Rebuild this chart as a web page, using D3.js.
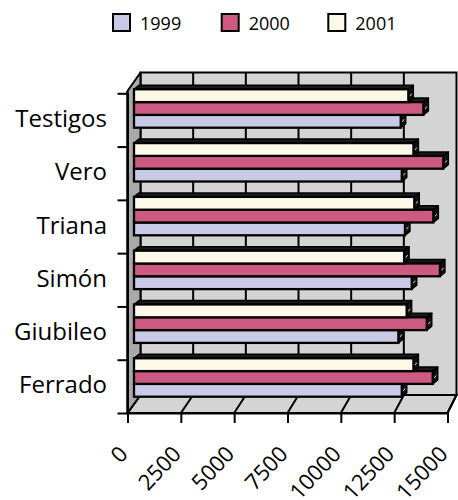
<!DOCTYPE html>
<html><head><meta charset="utf-8">
<script src="https://cdn.jsdelivr.net/npm/d3@7"></script>
<style>
html,body{margin:0;padding:0;background:#fff;}
svg{display:block;font-family:"Open Sans",sans-serif;}
</style></head>
<body><svg id="c" width="458" height="500"></svg>
<script>
const categories = ["Testigos","Vero","Triana","Simón","Giubileo","Ferrado"];
const seriesNames = ["1999","2000","2001"];
const values1999 = [12580, 12630, 12780, 13100, 12470, 12630];
const values2000 = [13650, 14590, 14120, 14430, 13810, 14090];
const values2001 = [12940, 13180, 13220, 12740, 12860, 13180];
const tickValues = [0, 2500, 5000, 7500, 10000, 12500, 15000];
const tickLabels = ["0","2500","5000","7500","10000","12500","15000"];
const colors = {"1999":"#c9cbe6","2000":"#cd5a80","2001":"#fdf9e9"};

const seriesValues = {"1999":values1999,"2000":values2000,"2001":values2001};
const svg = d3.select("#c");

// geometry
const frontTop = 91, frontBottom = 413, backTop = 72.5, backBottom = 395;
const xFront = d3.scaleLinear().domain([0,15000]).range([127.5,447.5]);
const xBack  = d3.scaleLinear().domain([0,15000]).range([140.5,456.5]);
const xBar   = d3.scaleLinear().domain([0,15000]).range([134,452]);
const yFrontLin = d3.scaleLinear().domain([0,6]).range([413,93.3]);
const yFrontBand = d3.scaleBand().domain(categories).range([93.3,413]);
const yBar = d3.scaleBand().domain(categories).range([81.6,404.4]).paddingInner(0.286).paddingOuter(0.143);
const ySeries = d3.scaleBand().domain(["2001","2000","1999"]).range([0,yBar.bandwidth()]);

// back wall
svg.append("rect").attr("x",xBack(0)).attr("y",backTop)
  .attr("width",xBack(15000)-xBack(0)).attr("height",backBottom-backTop)
  .attr("fill","#d4d4d4").attr("stroke","#000").attr("stroke-width",2);
svg.append("g").selectAll("line").data(tickValues.slice(1,-1)).join("line")
  .attr("x1",d=>xBack(d)).attr("x2",d=>xBack(d)).attr("y1",backTop).attr("y2",backBottom)
  .attr("stroke","#000").attr("stroke-width",2);

// floor
svg.append("polygon").attr("points",[[xFront(0),frontBottom],[xFront(15000),frontBottom],[xBack(15000),backBottom],[xBack(0),backBottom]].join(" "))
  .attr("fill","#d4d4d4").attr("stroke","#000").attr("stroke-width",2);
svg.append("g").selectAll("line").data(tickValues).join("line")
  .attr("x1",d=>xFront(d)).attr("x2",d=>xBack(d)).attr("y1",frontBottom).attr("y2",backBottom)
  .attr("stroke","#000").attr("stroke-width",2);

// left wall
svg.append("polygon").attr("points",[[xFront(0),frontTop],[xBack(0),backTop],[xBack(0),backBottom],[xFront(0),frontBottom]].join(" "))
  .attr("fill","#a9a9a9").attr("stroke","#000").attr("stroke-width",2).attr("stroke-linejoin","round");

// bars
const dxb = 5, dyb = 4;
const barsG = svg.append("g");
const order = categories.map((c,i)=>i).reverse();
order.forEach(i=>{
  ["1999","2000","2001"].forEach(s=>{
    const v = seriesValues[s][i];
    const y0 = yBar(categories[i]) + ySeries(s);
    const h = ySeries.bandwidth();
    const x0 = xBar(0), x1 = xBar(v);
    const g = barsG.append("g");
    g.append("polygon").attr("points",[[x0,y0],[x0+dxb,y0-dyb],[x1+dxb,y0-dyb],[x1,y0]].join(" "))
      .attr("fill","#1a1a1a").attr("stroke","#000").attr("stroke-width",1.5).attr("stroke-linejoin","round");
    g.append("polygon").attr("points",[[x1,y0],[x1+dxb,y0-dyb],[x1+dxb,y0+h-dyb],[x1,y0+h]].join(" "))
      .attr("fill","#111").attr("stroke","#000").attr("stroke-width",1.5).attr("stroke-linejoin","round");
    g.append("line").attr("x1",x1+1.5).attr("y1",y0+h/2+0.5).attr("x2",x1+3.5).attr("y2",y0+h/2-2)
      .attr("stroke","#ddd").attr("stroke-width",1);
    g.append("rect").attr("x",x0).attr("y",y0).attr("width",x1-x0).attr("height",h)
      .attr("fill",colors[s]).attr("stroke","#000").attr("stroke-width",2.3);
  });
});

// value axis (front)
const xAxis = d3.axisBottom(xFront).tickValues(tickValues).tickSize(10).tickSizeOuter(0)
  .tickFormat((d,i)=>tickLabels[i]);
const gx = svg.append("g").attr("transform",`translate(0,${frontBottom})`).call(xAxis);
gx.select(".domain").attr("stroke","#000").attr("stroke-width",2);
gx.selectAll(".tick line").attr("stroke","#000").attr("stroke-width",2);
gx.selectAll(".tick text").attr("x",0).attr("y",0).attr("dy",null)
  .attr("transform","translate(1,42) rotate(-47)").attr("text-anchor","end")
  .attr("font-family","Open Sans").attr("font-size",22).attr("fill","#000");

// category axis (front)
const yAxis = d3.axisLeft(yFrontLin).tickValues(d3.range(0,7)).tickSize(10).tickSizeOuter(0).tickFormat("");
const gy = svg.append("g").attr("transform",`translate(${xFront(0)},0)`).call(yAxis);
gy.select(".domain").attr("stroke","#000").attr("stroke-width",2);
gy.selectAll(".tick line").attr("stroke","#000").attr("stroke-width",2);
svg.append("line").attr("x1",xFront(0)).attr("x2",xFront(0)).attr("y1",frontTop).attr("y2",frontBottom)
  .attr("stroke","#000").attr("stroke-width",2);

svg.append("g").selectAll("text").data(categories).join("text")
  .attr("x",107).attr("y",d=>yFrontBand(d)+yFrontBand.bandwidth()/2 - 1.5)
  .attr("dy","0.36em").attr("text-anchor","end")
  .attr("font-size",24).attr("fill","#000").text(d=>d);

// legend
const legX = [112, 220.7, 327.3];
const leg = svg.append("g").selectAll("g").data(seriesNames).join("g")
  .attr("transform",(d,i)=>`translate(${legX[i]},13)`);
leg.append("rect").attr("x",1).attr("y",1).attr("width",17).attr("height",17)
  .attr("fill",d=>colors[d]).attr("stroke","#000").attr("stroke-width",2);
leg.append("text").attr("x",28).attr("y",16.5).attr("font-size",18).attr("fill","#000").text(d=>d);
</script></body></html>
